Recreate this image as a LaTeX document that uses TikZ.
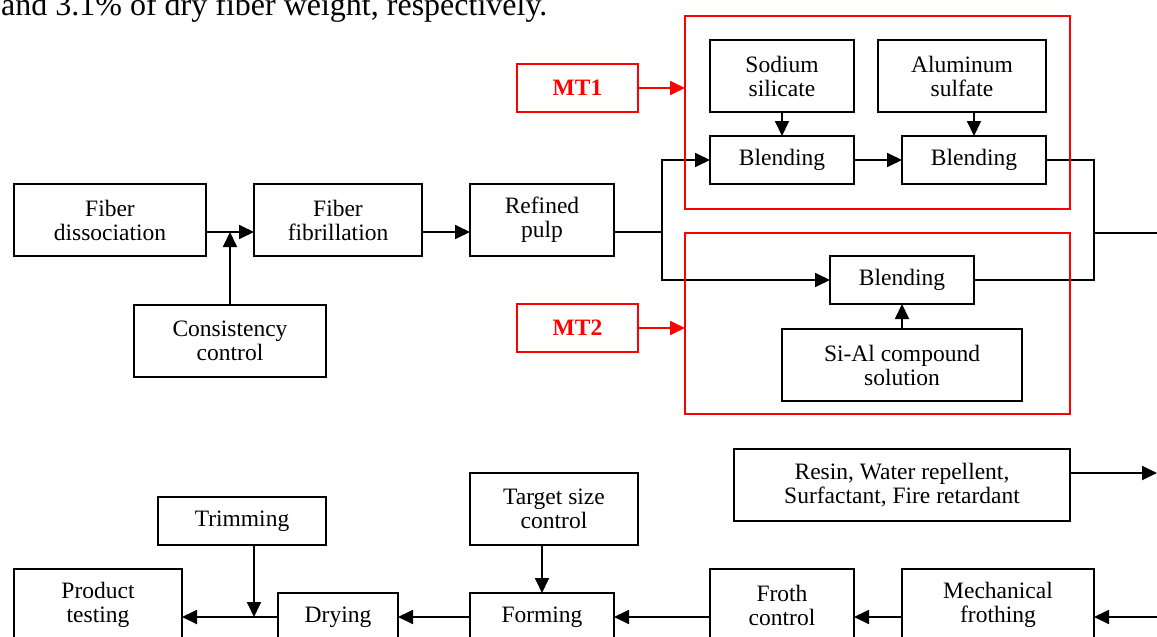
\documentclass[tikz,border=0pt]{standalone}
\usepackage{fontspec}
\setmainfont{Liberation Serif}
\usetikzlibrary{arrows.meta,calc}
\tikzset{
  blk/.style={draw=black, line width=1.8pt, inner sep=0pt, outer sep=0pt, align=center,
    font=\fontsize{23.5}{24}\selectfont},
  redblk/.style={draw=red, line width=1.8pt, inner sep=0pt, outer sep=0pt, align=center,
    text=red, font=\fontsize{23.5}{24}\selectfont\bfseries},
  frame/.style={draw=red, line width=1.8pt, inner sep=0pt, outer sep=0pt},
  link/.style={line width=1.8pt},
  flow/.style={line width=1.8pt, -{Triangle[length=15pt,width=14pt]}},
  redflow/.style={draw=red, line width=1.8pt, -{Triangle[length=15pt,width=14pt,fill=red]}},
}
\begin{document}
\begin{tikzpicture}[x=1pt,y=-1pt]
\useasboundingbox (0,0) rectangle (1157,637);
\clip (0,0) rectangle (1157,637);

% caption fragment at top
\node[anchor=base west, inner sep=0pt, font=\fontsize{32}{36}\selectfont] (cap) at (1,15)
  {and 3.1\% of dry fiber weight, respectively.};

% top row
\node[blk, minimum width=192pt, minimum height=72pt] (fd) at (110,220) {Fiber\\dissociation};
\node[blk, minimum width=168pt, minimum height=72pt] (ff) at (338,220) {Fiber\\fibrillation};
\node[blk, minimum width=192pt, minimum height=72pt] (cc) at (230,341) {Consistency\\control};
\node[blk, minimum width=144pt, minimum height=72pt] (rp) at (542,220) {Refined\\pulp};

% MT1 section
\node[blk, minimum width=144pt, minimum height=72pt] (ss) at (782,76) {Sodium\\silicate};
\node[blk, minimum width=168pt, minimum height=72pt] (as) at (962,76) {Aluminum\\sulfate};
\node[blk, minimum width=144pt, minimum height=48pt] (b1) at (782,160) {Blending};
\node[blk, minimum width=144pt, minimum height=48pt] (b2) at (974,160) {Blending};

% MT2 section
\node[blk, minimum width=144pt, minimum height=48pt] (b3) at (902,280) {Blending};
\node[blk, minimum width=240pt, minimum height=72pt] (sial) at (902,365) {Si-Al compound\\solution};

% lower part
\node[blk, minimum width=336pt, minimum height=72pt] (resin) at (902,485) {Resin, Water repellent,\\Surfactant, Fire retardant};
\node[blk, minimum width=192pt, minimum height=72pt] (mf) at (998,605) {Mechanical\\frothing};
\node[blk, minimum width=144pt, minimum height=72pt] (fc) at (782,605) {Froth\\control};
\node[blk, minimum width=144pt, minimum height=48pt] (fo) at (542,617) {Forming};
\node[blk, minimum width=168pt, minimum height=72pt] (ts) at (554,509) {Target size\\control};
\node[blk, minimum width=120pt, minimum height=48pt] (dr) at (338,617) {Drying};
\node[blk, minimum width=168pt, minimum height=48pt] (tr) at (242,521) {Trimming};
\node[blk, minimum width=168pt, minimum height=72pt] (pt) at (98,605) {Product\\testing};

% helper coordinates
\coordinate (j1) at (230,232);
\coordinate (sp) at (662,232);
\coordinate (mg) at (1094,233);
\coordinate (outT) at (1160,233);
\coordinate (outR) at (1157,473);
\coordinate (inR) at (1160,617);
\coordinate (trs) at (254,545);

% top connectors
\draw[flow] ([yshift=-12pt]fd.east) -- ([yshift=-12pt]ff.west);
\draw[flow] (cc.north) -- (j1);
\draw[flow] ([yshift=-12pt]ff.east) -- ([yshift=-12pt]rp.west);
\draw[link] ([yshift=-12pt]rp.east) -- (sp);
\draw[flow] (sp) |- (b1.west);
\draw[flow] (sp) |- (b3.west);
\draw[flow] (ss.south) -- (b1.north);
\draw[flow] (as.south -| b2.north) -- (b2.north);
\draw[flow] (b1.east) -- (b2.west);
\draw[flow] (sial.north) -- (b3.south);
\draw[link] (b2.east) -| (mg) |- (b3.east);
\draw[link] (mg) -- (outT);

% lower connectors
\draw[flow] ([yshift=12pt]resin.east) -- (outR);
\draw[flow] (inR) -- ([yshift=-12pt]mf.east);
\draw[flow] ([yshift=-12pt]mf.west) -- ([yshift=-12pt]fc.east);
\draw[flow] ([yshift=-12pt]fc.west) -- (fo.east);
\draw[flow] (fo.north |- ts.south) -- (fo.north);
\draw[flow] (fo.west) -- (dr.east);
\draw[flow] (dr.west) -- ([yshift=-12pt]pt.east);
\draw[flow] (trs) -- (trs |- dr.west);

% red frames and labels
\node[frame, minimum width=385pt, minimum height=193pt] (fr1) at (877.5,112.5) {};
\node[frame, minimum width=385pt, minimum height=181pt] (fr2) at (877.5,323.5) {};
\node[redblk, minimum width=121pt, minimum height=48pt] (mt1) at (577.5,88) {MT1};
\node[redblk, minimum width=121pt, minimum height=48pt] (mt2) at (577.5,328) {MT2};
\draw[redflow] (mt1.east) -- (mt1.east -| fr1.west);
\draw[redflow] (mt2.east) -- (mt2.east -| fr2.west);
\end{tikzpicture}
\end{document}
